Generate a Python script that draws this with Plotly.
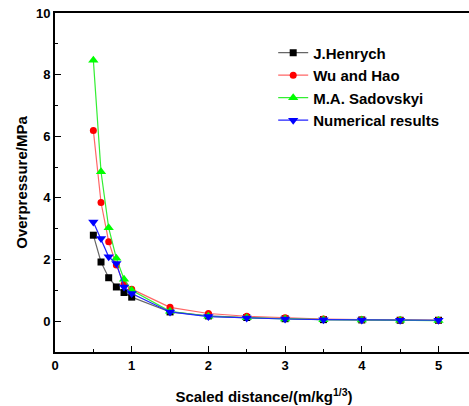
import plotly.graph_objects as go

x_vals = [0.5, 0.6, 0.7, 0.8, 0.9, 1.0, 1.5, 2.0, 2.5, 3.0, 3.5, 4.0, 4.5, 5.0]
henrych = [2.79, 1.92, 1.41, 1.11, 0.93, 0.78, 0.30, 0.17, 0.12, 0.08, 0.05, 0.04, 0.03, 0.03]
wu_hao = [6.19, 3.85, 2.58, 1.82, 1.20, 1.04, 0.45, 0.25, 0.16, 0.11, 0.07, 0.05, 0.04, 0.03]
sadovskyi = [8.47, 4.85, 3.03, 2.04, 1.36, 1.00, 0.32, 0.16, 0.11, 0.07, 0.05, 0.04, 0.03, 0.02]
numerical = [3.22, 2.68, 2.09, 1.87, 1.11, 0.90, 0.30, 0.15, 0.10, 0.07, 0.05, 0.04, 0.03, 0.03]

series = [
    ("J.Henrych", henrych, "#666666", "black", "square", 7),
    ("Wu and Hao", wu_hao, "#ff6666", "red", "circle", 7),
    ("M.A. Sadovskyi", sadovskyi, "#33ee33", "#00ff00", "triangle-up", 9),
    ("Numerical results", numerical, "#2222ff", "blue", "triangle-down", 9),
]

FONT = "Arial, Liberation Sans, sans-serif"

fig = go.Figure()
for name, vals, lc, mc, sym, sz in series:
    fig.add_trace(go.Scatter(
        x=x_vals, y=vals, name=name, mode="lines+markers",
        line=dict(color=lc, width=1.2),
        marker=dict(symbol=sym, size=sz, color=mc),
    ))

fig.update_layout(
    width=473, height=406,
    margin=dict(l=55, r=0, t=13, b=54, autoexpand=False),
    plot_bgcolor="white", paper_bgcolor="white",
    font=dict(family=FONT, color="black", size=13),
    showlegend=True, hovermode=False,
    legend=dict(
        x=0.522, y=0.931, xanchor="left", yanchor="top",
        font=dict(family=FONT, size=15, weight="bold", color="black"),
        bgcolor="rgba(0,0,0,0)", tracegroupgap=0, itemwidth=30,
    ),
    xaxis=dict(
        range=[0, 5.45], dtick=1, tick0=0,
        showgrid=False, zeroline=False, automargin=False,
        showline=True, linecolor="black", linewidth=2, mirror=True,
        ticks="inside", ticklen=6, tickcolor="black", tickwidth=1,
        minor=dict(ticks="inside", dtick=0.5, ticklen=3, tickcolor="black", showgrid=False),
        tickfont=dict(family=FONT, size=13, weight="bold"),
        ticklabeloverflow="allow",
        title=dict(text="<b>Scaled distance/(m/kg<sup>1/3</sup>)</b>",
                   font=dict(family=FONT, size=15), standoff=20),
    ),
    yaxis=dict(
        range=[-1, 10], dtick=2, tick0=0,
        showgrid=False, zeroline=False, automargin=False,
        showline=True, linecolor="black", linewidth=2, mirror=False,
        ticks="inside", ticklen=6, tickcolor="black", tickwidth=1,
        minor=dict(ticks="inside", dtick=1, ticklen=3, tickcolor="black", showgrid=False),
        tickfont=dict(family=FONT, size=13, weight="bold"),
        ticklabeloverflow="allow",
        title=dict(text="<b>Overpressure/MPa</b>",
                   font=dict(family=FONT, size=15), standoff=5),
    ),
)

fig.write_html("out.html", config={"displayModeBar": False},
               post_script="document.body.style.margin='0';document.body.style.overflow='hidden';")
